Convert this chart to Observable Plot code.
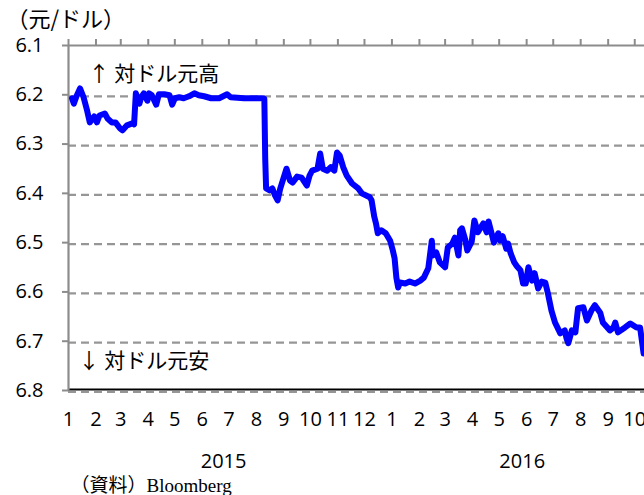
<!DOCTYPE html>
<html>
<head>
<meta charset="utf-8">
<script src="https://cdn.jsdelivr.net/npm/d3@7"></script>
<script src="https://cdn.jsdelivr.net/npm/@observablehq/plot@0.6"></script>
<style>
  html, body { margin: 0; padding: 0; background: #fff; }
  #chart { width: 644px; height: 495px; overflow: hidden; }
</style>
</head>
<body>
<div id="chart"></div>
<script>
const dates = [
  "2015-01-05","2015-01-07","2015-01-10","2015-01-14","2015-01-18","2015-01-22","2015-01-25","2015-01-30",
  "2015-02-02","2015-02-05","2015-02-11","2015-02-14","2015-02-19","2015-02-23","2015-02-28",
  "2015-03-03","2015-03-08","2015-03-14","2015-03-16","2015-03-18","2015-03-22","2015-03-24","2015-03-27","2015-03-31",
  "2015-04-02","2015-04-05","2015-04-10","2015-04-13","2015-04-19","2015-04-25","2015-04-28",
  "2015-05-01","2015-05-06","2015-05-11","2015-05-17","2015-05-23","2015-05-28",
  "2015-06-03","2015-06-11","2015-06-20","2015-06-29","2015-07-03","2015-07-18",
  "2015-08-07","2015-08-10","2015-08-11","2015-08-12","2015-08-16","2015-08-19","2015-08-22","2015-08-25","2015-08-28",
  "2015-09-04","2015-09-08","2015-09-11","2015-09-16","2015-09-21","2015-09-27","2015-09-30",
  "2015-10-03","2015-10-09","2015-10-12","2015-10-15","2015-10-20","2015-10-24","2015-10-28","2015-10-31",
  "2015-11-03","2015-11-07","2015-11-11","2015-11-17","2015-11-24","2015-11-28",
  "2015-12-07","2015-12-09","2015-12-12","2015-12-14","2015-12-16","2015-12-20","2015-12-25","2015-12-30",
  "2016-01-02","2016-01-04","2016-01-06","2016-01-08","2016-01-10","2016-01-16","2016-01-21","2016-01-27",
  "2016-02-02","2016-02-06","2016-02-11","2016-02-15","2016-02-16","2016-02-20","2016-02-24",
  "2016-03-01","2016-03-04","2016-03-09","2016-03-12","2016-03-16","2016-03-18","2016-03-20","2016-03-24","2016-03-26","2016-03-31",
  "2016-04-03","2016-04-07","2016-04-13","2016-04-17","2016-04-19","2016-04-23","2016-04-25","2016-04-30",
  "2016-05-02","2016-05-05","2016-05-09","2016-05-11","2016-05-14","2016-05-18","2016-05-21","2016-05-25","2016-05-28","2016-05-31",
  "2016-06-03","2016-06-07","2016-06-10","2016-06-14","2016-06-18","2016-06-22","2016-06-25","2016-06-29",
  "2016-07-03","2016-07-09","2016-07-14","2016-07-16","2016-07-18","2016-07-22","2016-07-26","2016-07-29",
  "2016-08-04","2016-08-08","2016-08-13","2016-08-17","2016-08-23","2016-08-26",
  "2016-09-03","2016-09-07","2016-09-09","2016-09-12","2016-09-20","2016-09-26",
  "2016-10-03","2016-10-07","2016-10-11"
];
const rates = [
  6.207,6.218,6.203,6.187,6.205,6.232,6.256,6.244,
  6.256,6.242,6.238,6.248,6.256,6.256,6.268,
  6.272,6.262,6.258,6.260,6.197,6.218,6.205,6.197,6.212,
  6.197,6.201,6.220,6.199,6.199,6.201,6.220,
  6.207,6.205,6.207,6.203,6.197,6.201,
  6.203,6.207,6.207,6.199,6.205,6.207,
  6.207,6.208,6.330,6.390,6.394,6.390,6.404,6.414,6.390,
  6.350,6.374,6.378,6.366,6.368,6.384,6.364,
  6.354,6.350,6.319,6.350,6.354,6.347,6.354,6.317,
  6.323,6.347,6.364,6.380,6.390,6.400,
  6.408,6.414,6.447,6.461,6.481,6.475,6.481,6.496,
  6.516,6.532,6.571,6.591,6.581,6.583,6.579,6.583,
  6.577,6.571,6.552,6.496,6.526,6.520,6.540,
  6.550,6.510,6.502,6.490,6.526,6.475,6.471,6.496,6.516,6.498,
  6.455,6.479,6.461,6.479,6.457,6.485,6.500,6.481,
  6.496,6.487,6.512,6.502,6.522,6.540,6.548,6.556,6.583,6.583,
  6.550,6.577,6.562,6.593,6.579,6.581,6.603,6.638,
  6.662,6.684,6.678,6.694,6.704,6.678,6.682,6.633,
  6.631,6.658,6.638,6.627,6.642,6.662,
  6.678,6.672,6.662,6.682,6.672,6.664,
  6.672,6.672,6.725
];
const monthTicks = [
  "2015-01-01","2015-02-01","2015-03-01","2015-04-01","2015-05-01","2015-06-01",
  "2015-07-01","2015-08-01","2015-09-01","2015-10-01","2015-11-01","2015-12-01",
  "2016-01-01","2016-02-01","2016-03-01","2016-04-01","2016-05-01","2016-06-01",
  "2016-07-01","2016-08-01","2016-09-01","2016-10-01"
];
const monthLabels = ["1","2","3","4","5","6","7","8","9","10","11","12","1","2","3","4","5","6","7","8","9","10"];
const yTicks = [6.1, 6.2, 6.3, 6.4, 6.5, 6.6, 6.7, 6.8];
const gridValues = [6.2, 6.3, 6.4, 6.5, 6.6, 6.7, 6.8];
const yearLabels = ["2015", "2016"];
const yearPositions = ["2015-06-25", "2016-05-27"];

const parse = d3.utcParse("%Y-%m-%d");
const series = dates.map((d, i) => ({date: parse(d), value: rates[i]}));
const tickDates = monthTicks.map(parse);
const labelOf = new Map(tickDates.map((d, i) => [+d, monthLabels[i]]));
const years = yearLabels.map((t, i) => ({date: parse(yearPositions[i]), text: t}));

const numFont = "'Open Sans', 'Noto Sans', sans-serif";
const jpFont = "'Noto Sans CJK JP', sans-serif";

const chart = Plot.plot({
  width: 644,
  height: 495,
  marginLeft: 68,
  marginRight: 0,
  marginTop: 45,
  marginBottom: 105,
  style: {fontFamily: numFont, color: "#000", background: "#fff", overflow: "visible"},
  x: {type: "utc", domain: [parse("2015-01-01"), parse("2016-10-12")]},
  y: {domain: [6.1, 6.8], reverse: true},
  marks: [
    Plot.ruleY(gridValues, {stroke: "#969696", strokeWidth: 2.2, strokeDasharray: "8,5", dy: 1.5}),
    Plot.ruleY([6.8], {stroke: "#000", strokeWidth: 2, dy: -1}),
    Plot.ruleY([6.1], {stroke: "#8c8c8c", strokeWidth: 2.2}),
    Plot.ruleX([parse("2015-01-01")], {y1: 6.1, y2: 6.8, stroke: "#8c8c8c", strokeWidth: 2.2}),
    Plot.axisY({ticks: yTicks, tickSize: 6, tickPadding: 19, tickFormat: d => d.toFixed(1),
      fontSize: 20, label: null, stroke: "#8c8c8c", strokeWidth: 2, fill: "#000"}),
    Plot.axisX({anchor: "top", ticks: tickDates, tickSize: 7, tickFormat: () => "",
      label: null, stroke: "#8c8c8c", strokeWidth: 2}),
    Plot.axisX({anchor: "bottom", ticks: tickDates, tickSize: 0, tickPadding: 21,
      tickFormat: d => labelOf.get(+d), fontSize: 20, label: null, fill: "#000"}),
    Plot.line(series, {x: "date", y: "value", stroke: "#0000ff", strokeWidth: 6,
      strokeLinejoin: "round", strokeLinecap: "round"}),
    Plot.text(years, {x: "date", text: "text", frameAnchor: "bottom", lineAnchor: "middle", dy: 71,
      fontSize: 20, fill: "#000", fontFamily: numFont}),
    Plot.text(["↑ 対ドル元高"], {frameAnchor: "top-left", lineAnchor: "middle", dx: 20, dy: 29, textAnchor: "start",
      fontSize: 21, fill: "#000", fontFamily: jpFont}),
    Plot.text(["↓ 対ドル元安"], {frameAnchor: "bottom-left", lineAnchor: "middle", dx: 10, dy: -29, textAnchor: "start",
      fontSize: 21, fill: "#000", fontFamily: jpFont}),
    Plot.text(["（元/ドル）"], {frameAnchor: "top-left", lineAnchor: "middle", dx: -62, dy: -26, textAnchor: "start",
      fontSize: 22, fill: "#000", fontFamily: jpFont}),
    Plot.text(["（資料）Bloomberg"], {frameAnchor: "bottom-left", lineAnchor: "middle", dx: 2, dy: 95, textAnchor: "start",
      fontSize: 19, fill: "#000", fontFamily: "'Liberation Serif', 'Noto Sans CJK JP', serif"})
  ]
});
document.getElementById("chart").appendChild(chart);
</script>
</body>
</html>
